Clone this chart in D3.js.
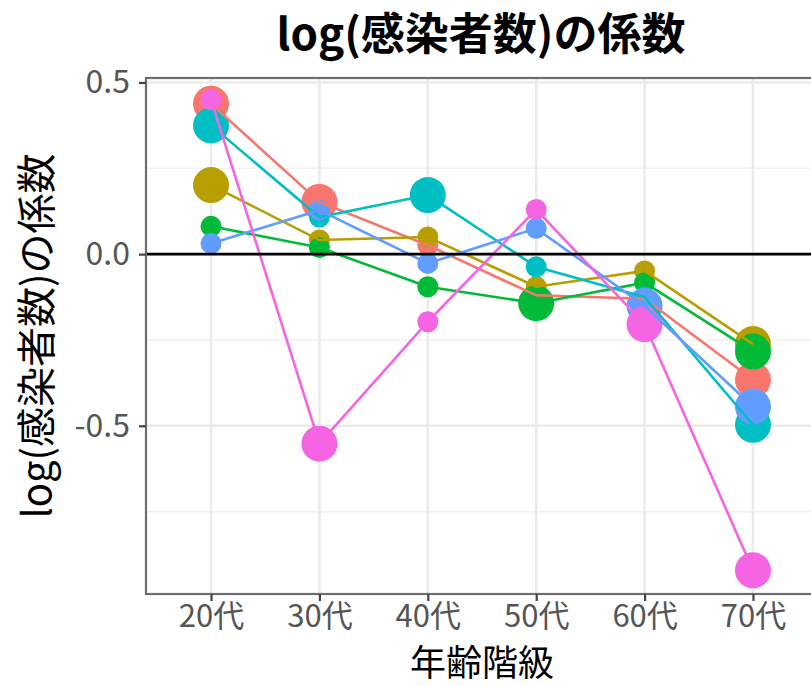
<!DOCTYPE html>
<html>
<head>
<meta charset="utf-8">
<script src="https://cdn.jsdelivr.net/npm/d3@7/dist/d3.min.js"></script>
<style>
  html, body { margin: 0; padding: 0; background: #fff; }
  svg { display: block; }
  text { font-family: "Noto Sans CJK JP", "Noto Sans", sans-serif; }
</style>
</head>
<body>
<svg id="chart" width="811" height="686"></svg>
<script>
// Age groups on the x axis
const ageGroups = ["20代", "30代", "40代", "50代", "60代", "70代"];

// Coefficient of log(感染者数) per age group, one array per group series
const coefA = [0.438, 0.152, 0.026, -0.120, -0.130, -0.366];
const coefB = [0.201, 0.041, 0.050, -0.095, -0.049, -0.262];
const coefC = [0.081, 0.019, -0.095, -0.143, -0.083, -0.284];
const coefD = [0.375, 0.108, 0.172, -0.037, -0.125, -0.497];
const coefE = [0.031, 0.128, -0.027, 0.075, -0.151, -0.444];
const coefF = [0.450, -0.552, -0.197, 0.130, -0.204, -0.921];

// Significance flag per point (1 = significant, drawn as a large point)
const sigA = [1, 1, 0, 0, 0, 1];
const sigB = [1, 0, 0, 0, 0, 1];
const sigC = [0, 0, 0, 1, 0, 1];
const sigD = [1, 0, 1, 0, 0, 1];
const sigE = [0, 0, 0, 0, 1, 1];
const sigF = [0, 1, 0, 0, 1, 1];

const seriesKeys = ["A", "B", "C", "D", "E", "F"];
const seriesCoefs = [coefA, coefB, coefC, coefD, coefE, coefF];
const seriesSig = [sigA, sigB, sigC, sigD, sigE, sigF];

// Axis ticks
const yMajorTicks = [0.5, 0.0, -0.5];
const yMinorTicks = [0.25, -0.25, -0.75];
const yTickLabels = ["0.5", "0.0", "-0.5"];

const series = seriesKeys.map((key, i) => ({
  key,
  points: ageGroups.map((g, j) => ({ group: g, value: seriesCoefs[i][j], sig: seriesSig[i][j] }))
}));

const svg = d3.select("#chart");
const panel = { left: 146, right: 818, top: 78, bottom: 594 };

const x = d3.scalePoint().domain(ageGroups).range([panel.left, panel.right]).padding(0.6);
const y = d3.scaleLinear().domain([-0.99, 0.513]).range([panel.bottom, panel.top]);
const color = d3.scaleOrdinal().domain(seriesKeys)
  .range(["#F8766D", "#B79F00", "#00BA38", "#00BFC4", "#619CFF", "#F564E3"]);
const radius = d3.scaleOrdinal().domain([0, 1]).range([10.5, 18]);

// Panel background
svg.append("rect")
  .attr("x", panel.left).attr("y", panel.top)
  .attr("width", panel.right - panel.left).attr("height", panel.bottom - panel.top)
  .attr("fill", "#fff");

// Grid lines
const grid = svg.append("g");
grid.selectAll("line.minor").data(yMinorTicks).join("line")
  .attr("x1", panel.left).attr("x2", panel.right)
  .attr("y1", d => y(d)).attr("y2", d => y(d))
  .attr("stroke", "#F2F2F2").attr("stroke-width", 1.6);
grid.selectAll("line.majorY").data(yMajorTicks).join("line")
  .attr("x1", panel.left).attr("x2", panel.right)
  .attr("y1", d => y(d)).attr("y2", d => y(d))
  .attr("stroke", "#EBEBEB").attr("stroke-width", 2.6);
grid.selectAll("line.majorX").data(ageGroups).join("line")
  .attr("x1", d => x(d)).attr("x2", d => x(d))
  .attr("y1", panel.top).attr("y2", panel.bottom)
  .attr("stroke", "#EBEBEB").attr("stroke-width", 2.6);

// Points layer
const pts = svg.append("g");
series.forEach(s => {
  pts.selectAll(null).data(s.points).join("circle")
    .attr("cx", d => x(d.group))
    .attr("cy", d => y(d.value))
    .attr("r", d => radius(d.sig))
    .attr("fill", color(s.key));
});

// Lines layer
const line = d3.line().x(d => x(d.group)).y(d => y(d.value));
svg.append("g").selectAll("path").data(series).join("path")
  .attr("d", d => line(d.points))
  .attr("fill", "none")
  .attr("stroke", d => color(d.key))
  .attr("stroke-width", 2.6);

// Zero reference line
svg.append("line")
  .attr("x1", panel.left).attr("x2", panel.right)
  .attr("y1", y(0)).attr("y2", y(0))
  .attr("stroke", "#000").attr("stroke-width", 2.6);

// Panel border
svg.append("rect")
  .attr("x", panel.left).attr("y", panel.top)
  .attr("width", panel.right - panel.left).attr("height", panel.bottom - panel.top)
  .attr("fill", "none").attr("stroke", "#6e6e6e").attr("stroke-width", 2.2);

// Y axis
const yAxis = d3.axisLeft(y).tickValues(yMajorTicks)
  .tickFormat((d, i) => yTickLabels[i]).tickSize(7).tickPadding(9);
const gy = svg.append("g").attr("transform", `translate(${panel.left},0)`).call(yAxis);
gy.select(".domain").remove();
gy.selectAll(".tick line").attr("stroke", "#444").attr("stroke-width", 2.2);
gy.selectAll(".tick text").attr("font-size", 32).attr("fill", "#555")
  .style("font-family", "'Noto Sans CJK JP', sans-serif");

// X axis
const xAxis = d3.axisBottom(x).tickSize(7).tickPadding(4);
const gx = svg.append("g").attr("transform", `translate(0,${panel.bottom})`).call(xAxis);
gx.select(".domain").remove();
gx.selectAll(".tick line").attr("stroke", "#444").attr("stroke-width", 2.2);
gx.selectAll(".tick text").attr("font-size", 31).attr("fill", "#555")
  .style("font-family", "'Noto Sans CJK JP', sans-serif");

// Titles
svg.append("text")
  .attr("x", (panel.left + panel.right) / 2 - 1).attr("y", 50)
  .attr("text-anchor", "middle")
  .attr("font-size", 44).attr("font-weight", "bold").attr("fill", "#000")
  .text("log(感染者数)の係数");

svg.append("text")
  .attr("x", (panel.left + panel.right) / 2).attr("y", 676)
  .attr("text-anchor", "middle")
  .attr("font-size", 36).attr("fill", "#000")
  .text("年齢階級");

svg.append("text")
  .attr("transform", `translate(51,${(panel.top + panel.bottom) / 2}) rotate(-90)`)
  .attr("text-anchor", "middle")
  .attr("font-size", 40).attr("fill", "#000")
  .text("log(感染者数)の係数");
</script>
</body>
</html>
